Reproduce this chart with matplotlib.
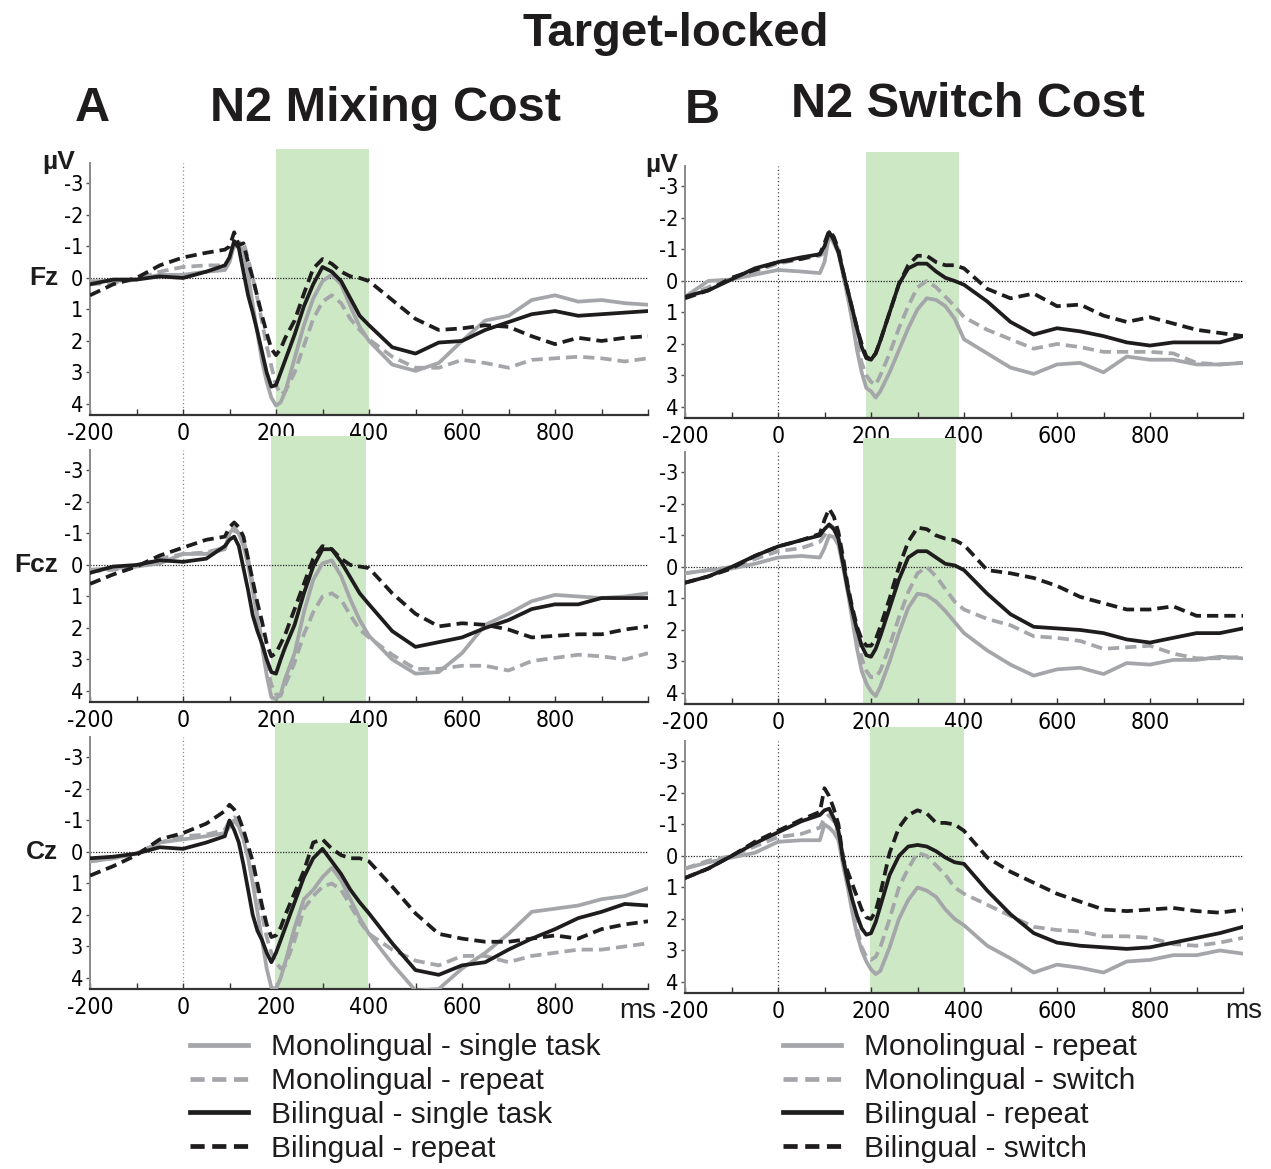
import matplotlib
matplotlib.use("Agg")
import matplotlib.pyplot as plt
from matplotlib import font_manager
from matplotlib.font_manager import FontProperties
from matplotlib.lines import Line2D
from matplotlib.ticker import MultipleLocator

# sample times (ms) shared by every waveform
times = [-200, -150, -100, -50, 0, 50, 90, 100,
         110, 120, 130, 140, 150, 160, 170, 180, 190, 200, 210, 220,
         240, 260, 280, 300, 320, 340, 360, 380, 400,
         450, 500, 550, 600, 650, 700, 750, 800, 850, 900, 950, 1000]

# A - N2 mixing cost (uV, negative up)
a_fz_mono_single = [0.1, 0.1, 0.05, -0.1, -0.1, -0.2, -0.25, -0.5,
                    -1.05, -1.05, -0.85, -0.1, 0.85, 1.75, 2.65, 3.3, 3.8, 4.05, 3.95, 3.6,
                    2.55, 1.5, 0.65, 0.1, -0.1, 0.2, 0.9, 1.55, 2.0,
                    2.75, 2.95, 2.7, 2.0, 1.35, 1.2, 0.7, 0.55, 0.75, 0.7, 0.8, 0.85]
a_fz_mono_repeat = [0.2, 0.15, 0.05, -0.2, -0.35, -0.4, -0.4, -0.6,
                    -1.0, -1.1, -1.15, -0.6, 0.0, 0.65, 1.4, 2.15, 2.8, 3.4, 3.7, 3.6,
                    3.0, 2.15, 1.3, 0.75, 0.55, 0.8, 1.3, 1.65, 1.95,
                    2.5, 2.85, 2.85, 2.6, 2.7, 2.85, 2.6, 2.55, 2.5, 2.55, 2.65, 2.55]
a_fz_bi_single = [0.2, 0.05, 0.05, -0.05, 0.0, -0.2, -0.4, -0.65,
                  -1.17, -0.95, -0.2, 0.55, 1.1, 1.7, 2.35, 3.0, 3.45, 3.4, 3.0, 2.6,
                  1.8, 0.9, 0.2, -0.35, -0.2, 0.1, 0.65, 1.2, 1.5,
                  2.2, 2.4, 2.05, 2.0, 1.65, 1.4, 1.15, 1.05, 1.2, 1.15, 1.1, 1.05]
a_fz_bi_repeat = [0.55, 0.2, 0.0, -0.4, -0.65, -0.8, -0.9, -1.0,
                  -1.45, -1.05, -1.1, -0.5, 0.0, 0.6, 1.2, 1.75, 2.25, 2.45, 2.25, 1.9,
                  1.35, 0.5, -0.3, -0.6, -0.45, -0.2, -0.05, 0.0, 0.1,
                  0.7, 1.3, 1.65, 1.6, 1.5, 1.55, 1.85, 2.1, 1.9, 2.0, 1.9, 1.85]

a_fcz_mono_single = [0.15, 0.1, 0.05, -0.05, -0.35, -0.35, -0.5, -1.0,
                     -1.2, -1.0, -0.6, 0.0, 0.8, 1.7, 2.6, 3.5, 4.2, 4.25, 4.1, 3.6,
                     2.8, 1.5, 0.47, -0.05, -0.15, 0.35, 1.1, 1.75, 2.25,
                     3.0, 3.45, 3.4, 2.8, 1.9, 1.55, 1.15, 0.95, 1.0, 1.05, 1.0, 0.9]
a_fcz_mono_repeat = [0.2, 0.15, 0.05, -0.2, -0.35, -0.4, -0.55, -0.9,
                     -1.1, -1.0, -0.8, -0.2, 0.6, 1.6, 2.4, 3.2, 3.8, 4.1, 4.15, 3.8,
                     3.1, 2.2, 1.5, 1.0, 0.9, 1.1, 1.6, 2.05, 2.3,
                     2.85, 3.3, 3.3, 3.2, 3.2, 3.35, 3.05, 2.95, 2.85, 2.9, 3.0, 2.8]
a_fcz_bi_single = [0.25, 0.05, 0.0, -0.15, -0.1, -0.2, -0.6, -0.8,
                   -0.9, -0.6, 0.1, 0.8, 1.6, 2.1, 2.5, 3.0, 3.4, 3.45, 3.0, 2.6,
                   1.9, 0.9, 0.05, -0.5, -0.5, -0.1, 0.4, 0.9, 1.25,
                   2.1, 2.6, 2.45, 2.3, 2.0, 1.75, 1.4, 1.25, 1.25, 1.05, 1.05, 1.05]
a_fcz_bi_repeat = [0.6, 0.3, 0.05, -0.3, -0.55, -0.8, -0.9, -1.2,
                   -1.35, -1.2, -0.9, -0.2, 0.5, 1.2, 1.8, 2.5, 2.9, 2.8, 2.5, 2.2,
                   1.4, 0.6, -0.2, -0.6, -0.5, -0.2, 0.0, 0.05, 0.1,
                   0.9, 1.55, 1.95, 1.85, 1.9, 2.05, 2.3, 2.25, 2.2, 2.2, 2.05, 1.95]

a_cz_mono_single = [0.3, 0.2, 0.05, -0.3, -0.4, -0.5, -0.6, -0.8,
                    -1.0, -0.8, -0.4, 0.2, 1.0, 1.9, 2.8, 3.7, 4.3, 4.35, 4.0, 3.5,
                    2.4, 1.5, 1.2, 0.8, 0.5, 0.9, 1.5, 2.1, 2.6,
                    3.55, 4.4, 4.35, 3.7, 3.2, 2.6, 1.9, 1.8, 1.7, 1.5, 1.4, 1.15]
a_cz_mono_repeat = [0.3, 0.2, 0.05, -0.3, -0.5, -0.55, -0.7, -1.0,
                    -1.1, -0.9, -0.6, 0.0, 0.6, 1.2, 2.0, 2.7, 3.2, 3.5, 3.7, 3.6,
                    2.8, 1.8, 1.4, 1.1, 1.0, 1.2, 1.7, 2.2, 2.6,
                    3.1, 3.45, 3.6, 3.3, 3.3, 3.5, 3.3, 3.2, 3.1, 3.1, 3.0, 2.9]
a_cz_bi_single = [0.2, 0.15, 0.05, -0.15, -0.1, -0.3, -0.5, -1.0,
                  -0.7, -0.3, 0.4, 1.2, 2.0, 2.5, 2.8, 3.2, 3.5, 3.2, 2.8, 2.4,
                  1.6, 0.8, 0.2, -0.1, 0.3, 0.7, 1.2, 1.6, 1.95,
                  2.9, 3.75, 3.9, 3.6, 3.5, 3.1, 2.75, 2.45, 2.1, 1.9, 1.65, 1.7]
a_cz_bi_repeat = [0.75, 0.45, 0.1, -0.4, -0.6, -0.9, -1.3, -1.5,
                  -1.35, -1.1, -0.7, -0.2, 0.3, 1.0, 1.7, 2.3, 2.7, 2.65, 2.4, 2.0,
                  1.3, 0.6, -0.3, -0.4, -0.1, 0.1, 0.2, 0.2, 0.3,
                  1.1, 1.95, 2.6, 2.75, 2.85, 2.85, 2.75, 2.65, 2.75, 2.45, 2.3, 2.2]

# B - N2 switch cost
b_fz_mono_repeat = [0.5, 0.0, -0.05, -0.2, -0.35, -0.3, -0.25, -0.6,
                    -1.45, -1.2, -0.9, -0.2, 0.5, 1.3, 2.2, 2.9, 3.4, 3.5, 3.7, 3.5,
                    2.9, 2.2, 1.5, 0.9, 0.55, 0.6, 0.8, 1.2, 1.85,
                    2.3, 2.75, 2.95, 2.65, 2.6, 2.9, 2.4, 2.5, 2.5, 2.65, 2.65, 2.6]
b_fz_mono_switch = [0.5, 0.2, -0.1, -0.3, -0.55, -0.7, -0.8, -0.9,
                    -1.45, -1.3, -1.0, -0.2, 0.5, 1.2, 2.0, 2.6, 3.0, 3.2, 3.3, 3.0,
                    2.3, 1.5, 0.8, 0.2, 0.0, 0.2, 0.5, 0.8, 1.15,
                    1.55, 1.85, 2.15, 2.0, 2.1, 2.25, 2.25, 2.25, 2.3, 2.6, 2.65, 2.6]
b_fz_bi_repeat = [0.5, 0.3, -0.05, -0.4, -0.6, -0.75, -0.85, -1.1,
                  -1.55, -1.3, -0.9, -0.3, 0.3, 0.9, 1.5, 2.1, 2.45, 2.5, 2.3, 1.9,
                  1.0, 0.1, -0.4, -0.55, -0.55, -0.3, -0.1, 0.0, 0.12,
                  0.65, 1.3, 1.7, 1.5, 1.6, 1.75, 1.95, 2.05, 1.95, 1.95, 1.95, 1.75]
b_fz_bi_switch = [0.55, 0.3, -0.1, -0.35, -0.6, -0.7, -0.85, -1.2,
                  -1.6, -1.4, -1.0, -0.3, 0.3, 0.9, 1.5, 2.0, 2.4, 2.5, 2.3, 1.9,
                  1.0, 0.1, -0.5, -0.8, -0.8, -0.6, -0.5, -0.5, -0.4,
                  0.25, 0.55, 0.4, 0.8, 0.75, 1.1, 1.3, 1.15, 1.35, 1.55, 1.65, 1.75]

b_fcz_mono_repeat = [0.2, 0.1, 0.05, -0.1, -0.3, -0.35, -0.3, -0.6,
                     -1.0, -0.95, -0.7, 0.0, 0.8, 1.7, 2.6, 3.3, 3.7, 3.95, 4.1, 3.8,
                     3.0, 2.1, 1.3, 0.85, 0.9, 1.1, 1.4, 1.75, 2.1,
                     2.65, 3.1, 3.45, 3.25, 3.2, 3.4, 3.05, 3.1, 2.95, 2.95, 2.85, 2.9]
b_fcz_mono_switch = [0.2, 0.1, 0.0, -0.25, -0.5, -0.6, -0.8, -1.0,
                     -1.35, -1.25, -0.9, -0.2, 0.6, 1.4, 2.2, 2.9, 3.3, 3.5, 3.5, 3.3,
                     2.5, 1.6, 0.8, 0.2, 0.0, 0.3, 0.7, 1.1, 1.35,
                     1.65, 1.85, 2.2, 2.25, 2.35, 2.6, 2.55, 2.5, 2.75, 2.9, 2.9, 2.85]
b_fcz_bi_repeat = [0.5, 0.3, 0.0, -0.35, -0.65, -0.85, -1.0, -1.2,
                   -1.35, -1.2, -0.9, -0.1, 0.7, 1.4, 2.0, 2.5, 2.8, 2.85, 2.6, 2.2,
                   1.3, 0.4, -0.3, -0.5, -0.5, -0.3, -0.1, -0.05, 0.1,
                   0.85, 1.5, 1.9, 1.95, 2.0, 2.1, 2.3, 2.4, 2.25, 2.1, 2.1, 1.95]
b_fcz_bi_switch = [0.5, 0.3, 0.05, -0.35, -0.65, -0.85, -1.05, -1.5,
                   -1.85, -1.6, -1.1, -0.3, 0.6, 1.3, 1.9, 2.3, 2.5, 2.5, 2.3, 1.9,
                   1.0, 0.0, -0.8, -1.25, -1.2, -1.0, -0.9, -0.85, -0.7,
                   0.1, 0.2, 0.35, 0.6, 0.95, 1.15, 1.35, 1.35, 1.25, 1.55, 1.55, 1.55]

b_cz_mono_repeat = [0.4, 0.2, 0.05, -0.1, -0.45, -0.5, -0.5, -1.0,
                    -0.9, -0.75, -0.5, 0.3, 1.0, 1.8, 2.5, 3.0, 3.35, 3.6, 3.75, 3.65,
                    2.9, 2.0, 1.4, 1.0, 1.1, 1.3, 1.7, 2.0, 2.2,
                    2.85, 3.25, 3.7, 3.45, 3.55, 3.7, 3.35, 3.3, 3.15, 3.15, 3.0, 3.1]
b_cz_mono_switch = [0.4, 0.15, 0.0, -0.3, -0.6, -0.7, -0.9, -1.2,
                    -1.3, -1.1, -0.7, 0.0, 0.8, 1.5, 2.3, 2.9, 3.2, 3.3, 3.2, 2.9,
                    2.0, 1.0, 0.4, -0.1, 0.0, 0.3, 0.6, 1.0, 1.2,
                    1.55, 1.9, 2.25, 2.35, 2.4, 2.55, 2.55, 2.6, 2.8, 2.85, 2.75, 2.6]
b_cz_bi_repeat = [0.7, 0.4, 0.0, -0.4, -0.75, -1.1, -1.3, -1.45,
                  -1.5, -1.2, -0.8, 0.1, 0.8, 1.4, 1.9, 2.3, 2.5, 2.45, 2.1, 1.6,
                  0.6, 0.0, -0.3, -0.35, -0.3, -0.15, 0.05, 0.2, 0.25,
                  1.1, 1.85, 2.45, 2.75, 2.85, 2.9, 2.95, 2.9, 2.75, 2.6, 2.45, 2.25]
b_cz_bi_switch = [0.7, 0.4, 0.0, -0.45, -0.8, -1.15, -1.4, -2.15,
                  -1.9, -1.5, -1.0, 0.1, 0.5, 0.9, 1.3, 1.7, 1.95, 2.0, 1.75, 1.2,
                  -0.1, -0.9, -1.3, -1.45, -1.35, -1.05, -1.05, -1.0, -0.8,
                  0.05, 0.5, 0.85, 1.2, 1.45, 1.7, 1.75, 1.7, 1.65, 1.75, 1.8, 1.7]

# highlighted N2 windows (ms)
windows_a = [(200, 400), (190, 393), (197, 397)]
windows_b = [(190, 390), (183, 383), (197, 400)]

channels = ["Fz", "Fcz", "Cz"]
labels_a = ["Monolingual - single task", "Monolingual - repeat",
            "Bilingual - single task", "Bilingual - repeat"]
labels_b = ["Monolingual - repeat", "Monolingual - switch",
            "Bilingual - repeat", "Bilingual - switch"]

series_a = [[a_fz_mono_single, a_fz_mono_repeat, a_fz_bi_single, a_fz_bi_repeat],
            [a_fcz_mono_single, a_fcz_mono_repeat, a_fcz_bi_single, a_fcz_bi_repeat],
            [a_cz_mono_single, a_cz_mono_repeat, a_cz_bi_single, a_cz_bi_repeat]]
series_b = [[b_fz_mono_repeat, b_fz_mono_switch, b_fz_bi_repeat, b_fz_bi_switch],
            [b_fcz_mono_repeat, b_fcz_mono_switch, b_fcz_bi_repeat, b_fcz_bi_switch],
            [b_cz_mono_repeat, b_cz_mono_switch, b_cz_bi_repeat, b_cz_bi_switch]]

GRAY = "#a4a6a9"
BLACK = "#1e1c1d"
GREEN = "#cde8c5"
DASH = (0, (3.0, 1.6))
colors = [GRAY, GRAY, BLACK, BLACK]
styles = ["-", DASH, "-", DASH]

plt.rcParams["font.family"] = ["Liberation Sans", "DejaVu Sans"]
plt.rcParams["axes.unicode_minus"] = False


# pick a narrow font file for the tick numbers, if one is installed
def find_narrow():
    best = None
    for f in font_manager.fontManager.ttflist:
        fn = f.fname.lower()
        if any(k in fn for k in ("bold", "italic", "oblique", "light", "thin", "medium", "black")):
            continue
        if "liberationsansnarrow" in fn.replace("-", "").replace("_", ""):
            return f.fname
        if "condensed" in fn and best is None:
            best = f.fname
    return best


narrow_file = find_narrow()


def tick_font(size):
    if narrow_file:
        return FontProperties(fname=narrow_file, size=size)
    return FontProperties(family="Liberation Sans", size=size * 0.9)


W, H = 1271, 1169
fig = plt.figure(figsize=(W / 100, H / 100), dpi=100)


def px_axes(left, top, right, bottom):
    return fig.add_axes([left / W, 1 - bottom / H, (right - left) / W, (bottom - top) / H])


def draw_panel(ax, series, window, vcolor):
    ax.axvspan(window[0], window[1], ymin=0, ymax=1.056, color=GREEN, lw=0,
               clip_on=False, zorder=0)
    ax.axhline(0, color="#222222", lw=0.9, ls=(0, (1, 1.2)), zorder=1)
    ax.axvline(0, color=vcolor, lw=0.9, ls=(0, (1, 2)), zorder=1)
    for vals, c, ls in zip(series, colors, styles):
        ax.plot(times, vals, color=c, lw=2.7, ls=ls, zorder=3,
                solid_joinstyle="round", dash_joinstyle="round")
    ax.set_xlim(-200, 1000)
    ax.set_ylim(4.35, -3.65)
    ax.set_facecolor("none")
    for s in ["top", "right"]:
        ax.spines[s].set_visible(False)
    ax.spines["left"].set_color("#8a8a8a")
    ax.spines["left"].set_linewidth(1.4)
    ax.spines["bottom"].set_color("#333333")
    ax.spines["bottom"].set_linewidth(1.6)
    ax.xaxis.set_minor_locator(MultipleLocator(100))
    ax.set_xticks([-200, 0, 200, 400, 600, 800])
    ax.set_yticks([-3, -2, -1, 0, 1, 2, 3, 4])
    ax.tick_params(axis="x", which="both", direction="in", length=4, width=1,
                   color="#333333", pad=5)
    ax.tick_params(axis="y", direction="out", length=3, width=1, color="#555555", pad=2)
    for lab in ax.get_xticklabels():
        lab.set_fontproperties(tick_font(16.5))
    for lab in ax.get_yticklabels():
        lab.set_fontproperties(tick_font(15.5))


rows_a = [(163, 415), (450, 702), (737, 989)]
rows_b = [(166, 418), (452, 704), (741, 993)]

for i in range(3):
    ax = px_axes(90, rows_a[i][0], 648, rows_a[i][1])
    draw_panel(ax, series_a[i], windows_a[i], "#8c8c8c")
    ax.annotate(channels[i], xy=(0, 0), xycoords=("axes fraction", "data"),
                xytext=(-23, 0), textcoords="offset points", ha="right", va="center",
                fontsize=19, fontweight="bold", color=BLACK)
    if i == 0:
        ax.annotate("µV", xy=(0, 1), xycoords="axes fraction", xytext=(-11, 1),
                    textcoords="offset points", ha="right", va="center",
                    fontsize=19, fontweight="bold", color=BLACK)
    if i == 2:
        ax.annotate("ms", xy=(1, 0), xycoords="axes fraction", xytext=(6, -21),
                    textcoords="offset points", ha="right", va="baseline",
                    fontsize=20, color=BLACK)

    bx = px_axes(685, rows_b[i][0], 1243, rows_b[i][1])
    draw_panel(bx, series_b[i], windows_b[i], "#444444")
    if i == 0:
        bx.annotate("µV", xy=(0, 1), xycoords="axes fraction", xytext=(-5, 1),
                    textcoords="offset points", ha="right", va="center",
                    fontsize=19, fontweight="bold", color=BLACK)
    if i == 2:
        bx.annotate("ms", xy=(1, 0), xycoords="axes fraction", xytext=(14, -18),
                    textcoords="offset points", ha="right", va="baseline",
                    fontsize=20, color=BLACK)

# titles
fig.text(676 / W, 1 - 46 / H, "Target-locked", ha="center", va="baseline",
         fontsize=34, fontweight="bold", color=BLACK)
fig.text(92 / W, 1 - 121 / H, "A", ha="center", va="baseline",
         fontsize=35, fontweight="bold", color=BLACK)
fig.text(385 / W, 1 - 121 / H, "N2 Mixing Cost", ha="center", va="baseline",
         fontsize=35, fontweight="bold", color=BLACK)
fig.text(702 / W, 1 - 123 / H, "B", ha="center", va="baseline",
         fontsize=35, fontweight="bold", color=BLACK)
fig.text(968 / W, 1 - 117 / H, "N2 Switch Cost", ha="center", va="baseline",
         fontsize=35, fontweight="bold", color=BLACK)

# legends
handles = [Line2D([], [], color=c, lw=3.4, ls=ls) for c, ls in zip(colors, styles)]
for lx, labs in [(190, labels_a), (783, labels_b)]:
    fig.legend(handles, labs, loc="upper left", bbox_to_anchor=(lx / W, 1 - 1033 / H),
               frameon=False, fontsize=21.5, handlelength=1.95, handletextpad=0.75,
               labelspacing=0.2, borderpad=0, borderaxespad=0,
               labelcolor=BLACK)

fig.savefig("out.png", dpi=100)
